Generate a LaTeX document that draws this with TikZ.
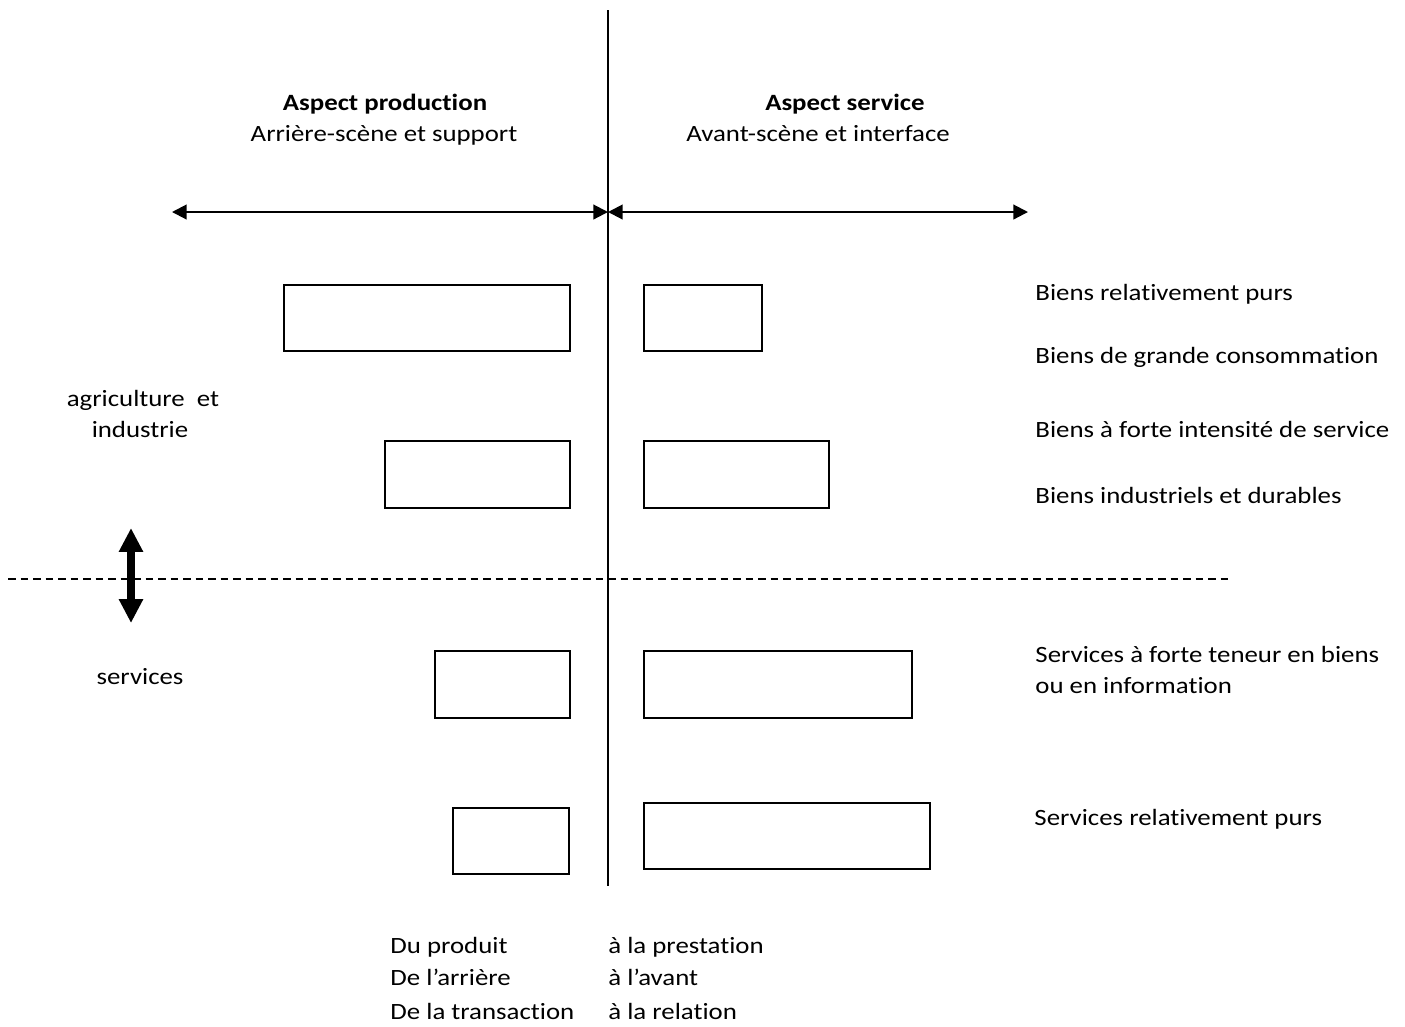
\documentclass[tikz,border=0pt]{standalone}
\usepackage{fontspec}
\setmainfont{Carlito}[FakeStretch=1.15, Ligatures=NoCommon]
\usetikzlibrary{arrows.meta,fit}
\begin{document}
\begin{tikzpicture}[x=0.48pt,y=-0.48pt,
  every node/.style={font=\fontsize{11.2}{14}\selectfont, inner sep=0pt},
  box/.style={draw, line width=1pt, inner sep=0pt},
  axisline/.style={line width=1pt},
  spanarrow/.style={line width=1pt, {Triangle[length=7pt,width=7pt]}-{Triangle[length=7pt,width=7pt]}},
  bigarrow/.style={line width=3.4pt, {Triangle[length=11.5pt,width=11pt]}-{Triangle[length=11.5pt,width=11pt]}},
  divider/.style={line width=0.9pt, dash pattern=on 3.6pt off 2.4pt},
  label/.style={anchor=base west},
  side/.style={anchor=base}
]
\useasboundingbox (0,0) rectangle (1405,1026);

% central axis and horizontal divider
\coordinate (axT) at (608,10);
\coordinate (axB) at (608,886);
\draw[axisline] (axT) -- (axB);
\coordinate (dvL) at (8,579);
\coordinate (dvR) at (1232,579);
\draw[divider] (dvL) -- (dvR);

% column headings
\node[side, font=\fontsize{11.2}{14}\selectfont\bfseries] (hp) at (385,110) {Aspect production};
\node[side] (hps) at (384,141) {Arrière-scène et support};
\node[side, font=\fontsize{11.2}{14}\selectfont\bfseries] (hs) at (845,110) {Aspect service};
\node[side] (hss) at (818,141) {Avant-scène et interface};

% span arrows
\coordinate (arL) at (172,212);
\coordinate (arM) at (608,212);
\coordinate (arR) at (1028,212);
\draw[spanarrow] (arL) -- (arM);
\draw[spanarrow] (arM) -- (arR);

% production / service boxes
\node[box, fit={(284,285) (570,351)}] (b1l) {};
\node[box, fit={(644,285) (762,351)}] (b1r) {};
\node[box, fit={(385,441) (570,508)}] (b2l) {};
\node[box, fit={(644,441) (829,508)}] (b2r) {};
\node[box, fit={(435,651) (570,718)}] (b3l) {};
\node[box, fit={(644,651) (912,718)}] (b3r) {};
\node[box, fit={(453,808) (569,874)}] (b4l) {};
\node[box, fit={(644,803) (930,869)}] (b4r) {};

% category labels on the right
\node[label] (t1) at (1035,300) {Biens relativement purs};
\node[label] (t2) at (1035,363) {Biens de grande consommation};
\node[label] (t3) at (1035,437) {Biens à forte intensité de service};
\node[label] (t4) at (1035,503) {Biens industriels et durables};
\node[label] (t5) at (1035,662) {Services à forte teneur en biens};
\node[label] (t6) at (1035,693) {ou en information};
\node[label] (t7) at (1034,825) {Services relativement purs};

% sector labels on the left
\node[side] (s1) at (143,406) {agriculture\ \ et};
\node[side] (s2) at (140,437) {industrie};
\node[side] (s3) at (140,684) {services};

\coordinate (vaT) at (131,528);
\coordinate (vaB) at (131,623);
\draw[bigarrow] (vaT) -- (vaB);

% transitions
\node[label] (f1) at (390,953) {Du produit};
\node[label] (f2) at (390,985) {De l’arrière};
\node[label] (f3) at (390,1019) {De la transaction};
\node[label] (g1) at (608,953) {à la prestation};
\node[label] (g2) at (608,985) {à l’avant};
\node[label] (g3) at (608,1019) {à la relation};
\end{tikzpicture}
\end{document}
